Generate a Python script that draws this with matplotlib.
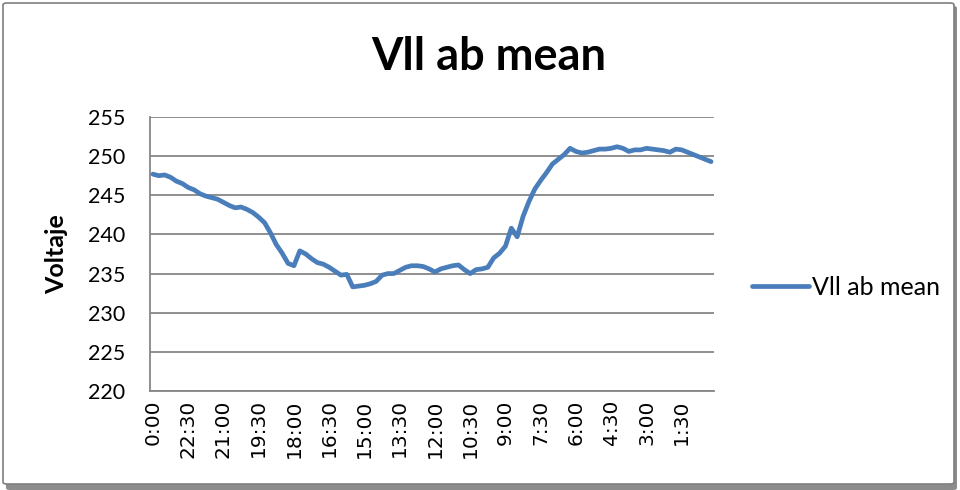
import matplotlib
matplotlib.use('Agg')
import matplotlib.pyplot as plt
from matplotlib.patches import FancyBboxPatch

# readings every 15 min, going back from 0:00
voltage = [
	247.7, 247.5, 247.6, 247.3, 246.8, 246.5, 246.0, 245.7, 245.2, 244.9,
	244.7, 244.5, 244.1, 243.7, 243.4, 243.5, 243.2, 242.8, 242.2, 241.5,
	240.2, 238.7, 237.6, 236.3, 236.0, 237.9, 237.5, 236.9, 236.4, 236.2,
	235.8, 235.3, 234.8, 234.9, 233.3, 233.4, 233.5, 233.7, 234.0, 234.8,
	235.0, 235.0, 235.4, 235.8, 236.0, 236.0, 235.9, 235.6, 235.2, 235.6,
	235.8, 236.0, 236.1, 235.5, 235.0, 235.5, 235.6, 235.8, 237.0, 237.6,
	238.5, 240.8, 239.7, 242.3, 244.2, 245.8, 246.9, 247.9, 249.0, 249.6,
	250.2, 251.0, 250.6, 250.4, 250.5, 250.7, 250.9, 250.9, 251.0, 251.2,
	251.0, 250.6, 250.8, 250.8, 251.0, 250.9, 250.8, 250.7, 250.5, 250.9,
	250.8, 250.5, 250.2, 249.9, 249.6, 249.3,
]
tick_labels = ['0:00', '22:30', '21:00', '19:30', '18:00', '16:30', '15:00', '13:30',
	'12:00', '10:30', '9:00', '7:30', '6:00', '4:30', '3:00', '1:30']
y_ticks = [220, 225, 230, 235, 240, 245, 250, 255]
series_name = 'Vll ab mean'

def main():
	plt.rcParams['font.family'] = ['Lato', 'DejaVu Sans']
	fig = plt.figure(figsize=(9.6, 4.9), dpi=100)

	# chart frame with shadow, kept behind the axes
	shadow = FancyBboxPatch((6 / 960, 0 / 490), 951 / 960, 484 / 490,
		boxstyle='round,pad=0,rounding_size=0.004', transform=fig.transFigure,
		facecolor='#8c8c8c', edgecolor='none', zorder=-2)
	frame = FancyBboxPatch((3 / 960, 6 / 490), 951 / 960, 481 / 490,
		boxstyle='round,pad=0,rounding_size=0.004', transform=fig.transFigure,
		facecolor='white', edgecolor='#7f7f7f', linewidth=1.2, zorder=-1)
	fig.patches.extend([shadow, frame])

	ax = fig.add_axes([150 / 960, 1 - 391 / 490, 564 / 960, 274 / 490])
	ax.set_facecolor('none')
	x = list(range(len(voltage)))
	ax.plot(x, voltage, color='#4a7ebb', linewidth=3.4, solid_joinstyle='round',
		solid_capstyle='round', label=series_name, zorder=3)

	ax.set_xlim(-0.5, len(voltage) - 0.5)
	ax.set_ylim(220, 255)
	ax.set_yticks(y_ticks)
	ax.set_yticklabels([str(v) for v in y_ticks], fontsize=15.5)
	ax.set_xticks(x[::6])
	ax.set_xticklabels(tick_labels, rotation=90, fontsize=14.5, family='DejaVu Sans')
	ax.tick_params(length=0)
	ax.tick_params(axis='y', pad=18)
	ax.tick_params(axis='x', pad=6)
	ax.grid(axis='y', color='#868686', linewidth=1.3)
	for s in ['top', 'right']:
		ax.spines[s].set_visible(False)
	for s in ['left', 'bottom']:
		ax.spines[s].set_color('#868686')
		ax.spines[s].set_linewidth(1.3)

	ax.set_ylabel('Voltaje', fontsize=18, fontweight='bold')
	ax.yaxis.set_label_coords(-0.145, 0.5)
	fig.text(489 / 960, 1 - 57 / 490, 'Vll ab mean', fontsize=32.5, fontweight='bold',
		ha='center', va='center')
	fig.legend(loc='center left', bbox_to_anchor=(729 / 960, 1 - 287 / 490),
		frameon=False, fontsize=18, handlelength=2.3, handletextpad=0.1)

	fig.savefig('out.png', dpi=100)

if __name__ == '__main__':
	main()
